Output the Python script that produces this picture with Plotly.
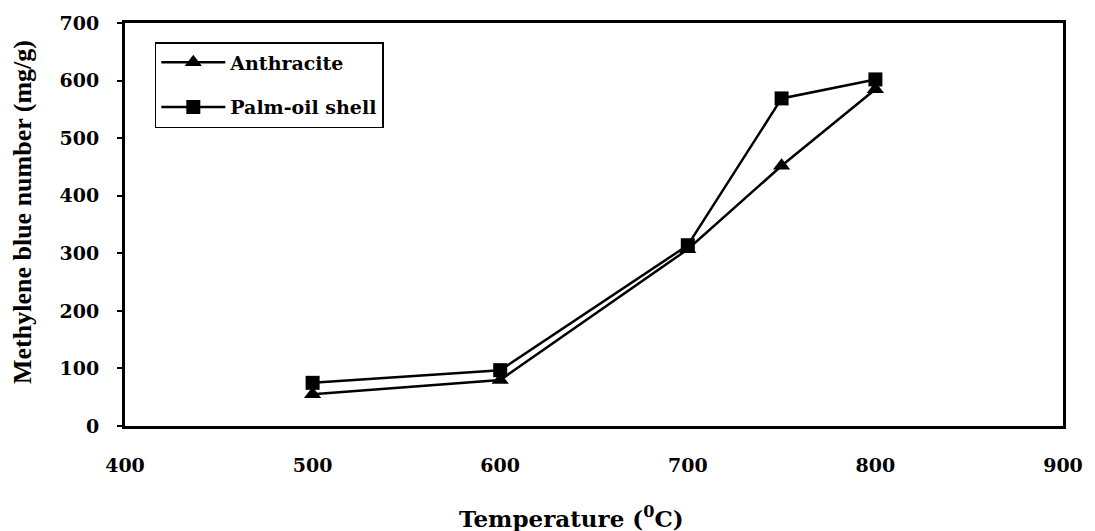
import plotly.graph_objects as go

temperature = [500, 600, 700, 750, 800]
anthracite = [55, 80, 307, 452, 585]
palm_oil_shell = [75, 97, 314, 569, 602]

x_ticks = [400, 500, 600, 700, 800, 900]
y_ticks = [0, 100, 200, 300, 400, 500, 600, 700]

serif = "Liberation Serif"
wide_serif = "DejaVu Serif"

fig = go.Figure()

fig.add_trace(go.Scatter(
    x=temperature, y=anthracite, name="Anthracite", mode="lines+markers",
    legendgroup="a",
    line=dict(color="black", width=2.5),
    marker=dict(symbol="triangle-up", size=15, color="black"),
))
fig.add_trace(go.Scatter(
    x=temperature, y=palm_oil_shell, name="Palm-oil shell", mode="lines+markers",
    legendgroup="b",
    line=dict(color="black", width=2.5),
    marker=dict(symbol="square", size=14, color="black"),
))

fig.add_annotation(
    text="Temperature (<sup>0</sup>C)", xref="paper", yref="paper",
    x=(574 - 125) / 944, y=0, yshift=-91, xanchor="center", yanchor="middle",
    showarrow=False,
    font=dict(family=wide_serif, size=23, color="black", weight="bold"),
)
fig.add_annotation(
    text="Methylene blue number (mg/g)", xref="paper", yref="paper",
    x=0, xshift=-103, y=(426 - 212) / 403, xanchor="center", yanchor="middle",
    textangle=-90, showarrow=False,
    font=dict(family=serif, size=26, color="black", weight="bold"),
)

fig.update_layout(
    width=1095, height=531,
    margin=dict(l=125, r=26, t=23, b=105),
    paper_bgcolor="white", plot_bgcolor="white",
    font=dict(family=serif, color="black"),
    showlegend=True,
    legend=dict(
        x=(155 - 125) / 944, y=(426 - 42) / 403, xanchor="left", yanchor="top",
        bgcolor="white", bordercolor="black", borderwidth=1.5,
        font=dict(family=wide_serif, size=19, color="black", weight="bold"),
        tracegroupgap=17, itemwidth=64,
    ),
    xaxis=dict(
        range=[400, 900], tickvals=x_ticks, ticktext=[str(v) for v in x_ticks],
        showgrid=False, zeroline=False,
        showline=True, linecolor="black", linewidth=3, mirror=True,
        ticks="", ticklabelstandoff=20,
        tickfont=dict(family=wide_serif, size=19, color="black", weight="bold"),
    ),
    yaxis=dict(
        range=[0, 700], tickvals=y_ticks, ticktext=[str(v) for v in y_ticks],
        showgrid=False, zeroline=False,
        showline=True, linecolor="black", linewidth=3, mirror=True,
        ticks="outside", ticklen=5, tickwidth=1.5, tickcolor="black",
        ticklabelstandoff=14,
        tickfont=dict(family=wide_serif, size=19, color="black", weight="bold"),
    ),
)

fig.write_html("out.html")
